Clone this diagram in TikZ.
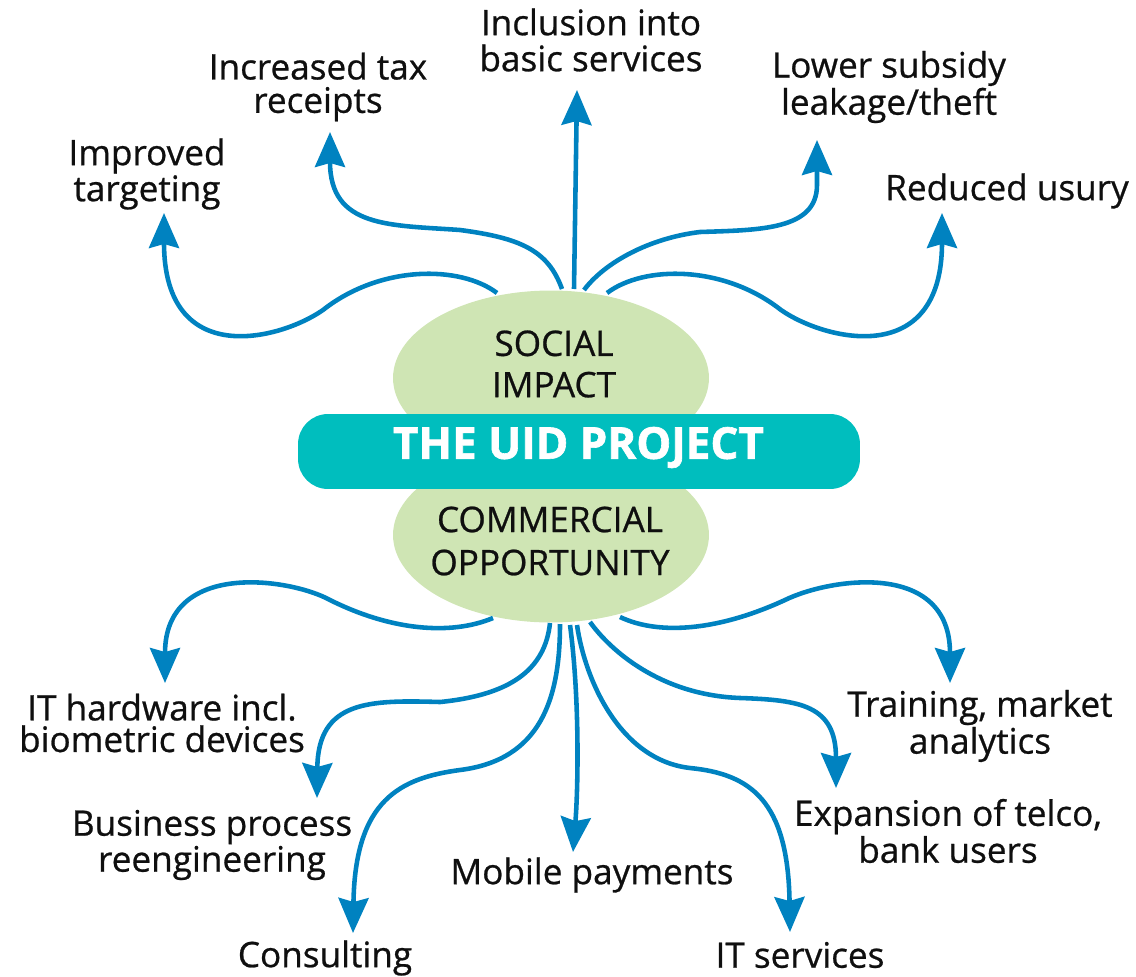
\documentclass[tikz,border=0pt]{standalone}
\usepackage{fontspec}
\setmainfont{Open Sans}[FakeBold=0.7]
\newfontfamily\ttlfont{Open Sans}[BoldFeatures={FakeBold=1.4}]
\usetikzlibrary{arrows.meta,shapes.geometric}
\definecolor{arrowblue}{RGB}{0,130,192}
\definecolor{leaf}{RGB}{207,229,180}
\definecolor{tealbar}{RGB}{0,190,190}
\definecolor{ink}{RGB}{15,15,15}
\begin{document}
\begin{tikzpicture}[x=0.02cm,y=-0.02cm,
  lbl/.style={align=center,inner sep=0pt,text=ink,font=\fontsize{20}{19}\selectfont},
  lblb/.style={align=center,inner sep=0pt,text=ink,font=\fontsize{20}{18}\selectfont},
  inlbl/.style={align=center,inner sep=0pt,text=ink,font=\fontsize{20}{23.5}\selectfont},
  blob/.style={ellipse,fill=leaf,draw=none,minimum width=6.32cm,minimum height=3.5cm,inner sep=0pt},
  bar/.style={fill=tealbar,draw=none,rounded corners=0.6cm,minimum width=11.24cm,minimum height=1.5cm,inner sep=0pt},
  ttl/.style={text=white,inner sep=0pt,font=\fontsize{25}{26}\selectfont\ttlfont\bfseries},
  arr/.style={draw=arrowblue,line width=2.6pt,-{Stealth[length=0.7cm,width=0.6cm,inset=0.08cm]}}]
\useasboundingbox (0,0) rectangle (1136,977);

% central shapes
\node[blob] (soc) at (551,378) {};
\node[blob] (com) at (551,535) {};
\node[bar] (uid) at (579,451.5) {};
\node[ttl] (uidt) at (578.5,447.5) {THE UID PROJECT};
\node[inlbl] (soct) at (554,364) {SOCIAL\\IMPACT};
\node[inlbl,font=\fontsize{20}{24.5}\selectfont] (comt) at (550,541) {COMMERCIAL\\OPPORTUNITY};

% labels
\node[lbl] (l1) at (147,174) {Improved\\targeting};
\node[lbl] (l2) at (318,87) {Increased tax\\receipts};
\node[lbl,font=\fontsize{20}{20.5}\selectfont] (l3) at (591,40) {Inclusion into\\basic services};
\node[lbl] (l4) at (889,87) {Lower subsidy\\leakage/theft};
\node[lbl] (l5) at (1007,191) {Reduced usury};
\node[lblb] (b1) at (162,723) {IT hardware incl.\\biometric devices};
\node[lblb] (b2) at (212,845) {Business process\\reengineering};
\node[lbl] (b3) at (325,958) {Consulting};
\node[lbl] (b4) at (592,875) {Mobile payments};
\node[lbl] (b5) at (800,955) {IT services};
\node[lblb] (b6) at (948,831) {Expansion of telco,\\bank users};
\node[lblb] (b7) at (980,726) {Training, market\\analytics};

% connector ends
\coordinate (s1) at (497,293);
\coordinate (s2) at (562,289);
\coordinate (s3) at (574,289);
\coordinate (s4) at (584,290);
\coordinate (s5) at (607,293);
\coordinate (t1) at (164,213);
\coordinate (t2) at (330,132);
\coordinate (t3) at (577,90);
\coordinate (t4) at (817,140);
\coordinate (t5) at (942,213);
\coordinate (u1) at (493,618);
\coordinate (u2) at (550,623);
\coordinate (u3) at (560,624);
\coordinate (u4) at (570,625);
\coordinate (u5) at (577,625);
\coordinate (u6) at (590,622);
\coordinate (u7) at (620,617);
\coordinate (d1) at (165,683);
\coordinate (d2) at (317,798);
\coordinate (d3) at (353,933);
\coordinate (d4) at (573,852);
\coordinate (d5) at (790,932);
\coordinate (d6) at (836,788);
\coordinate (d7) at (950,683);

% top connectors
\draw[arr] (s1) .. controls (460,265) and (380,265) .. (323,310)
               .. controls (280,340) and (164,370) .. (t1);
\draw[arr] (s2) .. controls (548,250) and (520,238) .. (460,230)
               .. controls (390,225) and (330,228) .. (t2);
\draw[arr] (s3) -- (t3);
\draw[arr] (s4) .. controls (605,262) and (650,238) .. (700,232)
               .. controls (760,230) and (817,230) .. (817,185) -- (t4);
\draw[arr] (s5) .. controls (644,265) and (724,265) .. (781,310)
               .. controls (824,340) and (942,370) .. (t5);

% bottom connectors
\draw[arr] (u1) .. controls (450,636) and (390,630) .. (330,600)
               .. controls (290,578) and (165,560) .. (d1);
\draw[arr] (u2) .. controls (545,670) and (510,695) .. (440,702)
               .. controls (370,700) and (318,700) .. (d2);
\draw[arr] (u3) .. controls (560,700) and (540,760) .. (460,770)
               .. controls (400,778) and (355,800) .. (d3);
\draw[arr] (u4) .. controls (580,700) and (578,790) .. (d4);
\draw[arr] (u5) .. controls (585,680) and (620,760) .. (690,768)
               .. controls (750,774) and (788,800) .. (d5);
\draw[arr] (u6) .. controls (610,650) and (660,695) .. (740,698)
               .. controls (800,700) and (836,705) .. (d6);
\draw[arr] (u7) .. controls (660,636) and (720,630) .. (785,600)
               .. controls (830,578) and (950,560) .. (d7);
\end{tikzpicture}
\end{document}
